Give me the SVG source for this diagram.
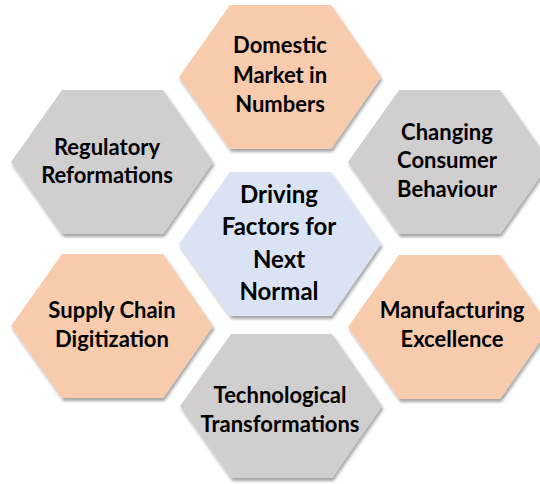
<svg xmlns="http://www.w3.org/2000/svg" width="540" height="484" viewBox="0 0 540 484">
  <style>
    .peach { fill: #F8CBAD; }
    .grey { fill: #D0CECE; }
    .blue { fill: #DAE3F3; }
    .hex { filter: url(#shadow); }
    text { font-family: Lato, "Open Sans", "Liberation Sans", sans-serif; font-weight: bold; fill: #000; text-anchor: middle; }
    .lbl { font-size: 22px; }
    .core { font-size: 24px; }
  </style>
  <defs>
    <!-- flat-topped hexagon centred on the origin -->
    <polygon id="hexShape" points="-101,0 -50,-72 51,-72 101,0 51,72 -50,72"/>
    <filter id="shadow" x="-10%" y="-10%" width="125%" height="130%">
      <feDropShadow dx="1.5" dy="3" stdDeviation="1.6" flood-color="#000" flood-opacity="0.35"/>
    </filter>
  </defs>

  <rect width="540" height="484" fill="#FFFFFF"/>

  <g id="domestic-market">
    <use href="#hexShape" class="hex peach" transform="translate(280,77)"/>
    <text class="lbl" x="280" y="53">Domestic</text>
    <text class="lbl" x="280" y="83">Market in</text>
    <text class="lbl" x="280" y="112">Numbers</text>
  </g>

  <g id="regulatory-reformations">
    <use href="#hexShape" class="hex grey" transform="translate(112,162)"/>
    <text class="lbl" x="107" y="155">Regulatory</text>
    <text class="lbl" x="107" y="183">Reformations</text>
  </g>

  <g id="consumer-behaviour">
    <use href="#hexShape" class="hex grey" transform="translate(449,162)"/>
    <text class="lbl" x="447" y="140">Changing</text>
    <text class="lbl" x="447" y="168">Consumer</text>
    <text class="lbl" x="447" y="197">Behaviour</text>
  </g>

  <g id="driving-factors">
    <use href="#hexShape" class="hex blue" transform="translate(280,244)"/>
    <text class="core" x="279" y="203">Driving</text>
    <text class="core" x="279" y="235">Factors for</text>
    <text class="core" x="279" y="268">Next</text>
    <text class="core" x="279" y="300">Normal</text>
  </g>

  <g id="supply-chain">
    <use href="#hexShape" class="hex peach" transform="translate(112,326)"/>
    <text class="lbl" x="112" y="318">Supply Chain</text>
    <text class="lbl" x="112" y="347">Digitization</text>
  </g>

  <g id="manufacturing">
    <use href="#hexShape" class="hex peach" transform="translate(449,327)"/>
    <text class="lbl" x="452" y="318">Manufacturing</text>
    <text class="lbl" x="452" y="347">Excellence</text>
  </g>

  <g id="technological">
    <use href="#hexShape" class="hex grey" transform="translate(281,406)"/>
    <text class="lbl" x="280" y="403">Technological</text>
    <text class="lbl" x="280" y="432">Transformations</text>
  </g>

  <g id="connectors"/>
</svg>
